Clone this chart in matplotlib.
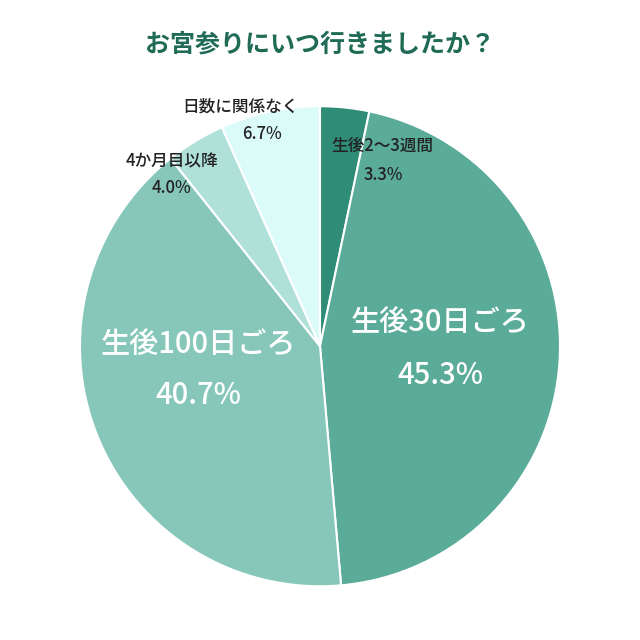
import matplotlib
matplotlib.use("Agg")
import matplotlib.pyplot as plt

plt.rcParams["font.family"] = "Noto Sans CJK JP"

categories = ["生後2〜3週間", "生後30日ごろ", "生後100日ごろ", "4か月目以降", "日数に関係なく"]
values = [3.3, 45.3, 40.7, 4.0, 6.7]
colors = ["#2f8c76", "#5aab98", "#86c7ba", "#afe1d9", "#dbfbf8"]

fig = plt.figure(figsize=(6.4, 6.4), dpi=100)
ax = fig.add_axes([0.125, 0.084, 0.75, 0.75])
ax.pie(values, colors=colors, startangle=90, counterclock=False, radius=1,
       wedgeprops=dict(linewidth=1.5, edgecolor="white"))
ax.set_xlim(-1, 1)
ax.set_ylim(-1, 1)
ax.set_aspect("equal")
ax.axis("off")

def t(x, y, s, size, color="#222222", w="medium"):
    fig.text(x / 640, 1 - y / 640, s, ha="center", va="center", fontsize=size,
             color=color, fontweight=w)

t(320, 45, "お宮参りにいつ行きましたか？", 18, "#1f6b55", "bold")
t(382, 146, categories[0], 12)
t(383, 175, f"{values[0]}%", 12)
t(440, 323, categories[1], 21, "white")
t(440, 376, f"{values[1]}%", 21, "white")
t(198, 345, categories[2], 21, "white")
t(198, 395, f"{values[2]}%", 21, "white")
t(172, 161, categories[3], 12)
t(172, 188, f"{values[3]}%", 12)
t(240, 107, categories[4], 12)
t(262, 134, f"{values[4]}%", 12)

fig.savefig("out.png", dpi=100, facecolor="white")
